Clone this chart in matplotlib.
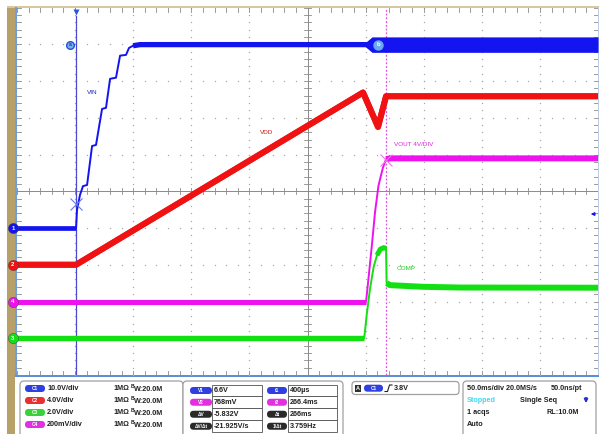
import numpy as np
import matplotlib
matplotlib.use("Agg")
import matplotlib.pyplot as plt
from matplotlib.patches import FancyBboxPatch, Rectangle, Polygon

plt.rcParams['font.family'] = ['Liberation Sans', 'DejaVu Sans']

# ---------------- data (time in ms relative to trigger, values in volts) -------------
XMIN = -50.8          # left edge of screen relative to trigger (ms)
T_PER_DIV = 50.0      # 50.0 ms/div

vin_t = [-50.8, 0.0, 0.86, 3.4, 6.0, 9.5, 13.8, 17.2, 22.4, 25.8, 29.3, 34.4,
         37.9, 43.0, 45.6, 49.1, 55.1, 449.2]
vin_v = [0.0, 0.0, 4.9, 9.0, 11.4, 11.7, 22.3, 22.6, 32.4, 32.7, 40.6, 40.9,
         46.9, 47.1, 49.0, 49.6, 49.9, 49.9]
vin_band_t = [248.7, 254.7, 449.2]     # switching-noise envelope on VIN
vin_band_h = [0.5, 2.1, 2.1]

vdd_t = [-50.8, 0.0, 247.0, 259.9, 266.8, 449.2]
vdd_v = [0.0, 0.0, 18.75, 15.0, 18.34, 18.34]

vout_t = [-50.8, 249.6, 251.6, 254.5, 257.3, 260.2, 261.6, 264.2, 266.8, 270.2, 449.2]
vout_v = [0.0, 0.0, 0.120, 0.300, 0.485, 0.627, 0.665, 0.730, 0.774, 0.779, 0.779]

comp_t = [-50.8, 248.0, 250.3, 253.2, 256.1, 259.0, 261.9, 264.7, 266.8, 267.3,
          270.2, 298.6, 330.5, 449.2]
comp_v = [0.0, 0.0, 1.36, 2.78, 3.87, 4.52, 4.85, 4.93, 4.89, 3.00,
          2.89, 2.80, 2.76, 2.75]

ch_names = ['C1', 'C2', 'C3', 'C4']
ch_scale = {'C1': 10.0, 'C2': 4.0, 'C3': 2.0, 'C4': 0.2}   # V/div
ch_offset = {'C1': -1.0, 'C2': -2.0, 'C3': -4.0, 'C4': -3.0}  # div
ch_scale_txt = ['10.0V/div', '4.0V/div', '2.0V/div', '200mV/div']

cursor_t1, cursor_t2 = 0.4, 266.4          # ms
cursor_v1, cursor_v2 = 6.6, 0.768          # V (C1, C4)
trig_level = 3.8                            # V on C1

cur_v_labels = ['V1', 'V2', 'ΔV', 'ΔV/Δt']
cur_v_vals = ['6.6V', '768mV', '-5.832V', '-21.925V/s']
cur_t_labels = ['t1', 't2', 'Δt', '1/Δt']
cur_t_vals = ['400µs', '266.4ms', '266ms', '3.759Hz']

# ---------------- styles -------------
BLUE = '#1414f0'
RED = '#f01212'
MAG = '#ee12ee'
GRN = '#12e012'
ch_color = {'C1': BLUE, 'C2': RED, 'C3': GRN, 'C4': MAG}
PILL = {'C1': '#2f3fe0', 'C2': '#e83030', 'C3': '#3ad03a', 'C4': '#e030e0'}

W, H = 599, 434
fig = plt.figure(figsize=(W / 100, H / 100), dpi=100)
fig.patch.set_facecolor('white')

X0, X1, Y0, Y1 = 17.0, 598.0, 7.5, 375.0   # graticule in px

# background overlay (pixel coords)
bg = fig.add_axes([0, 0, 1, 1], zorder=0)
bg.set_xlim(0, W); bg.set_ylim(H, 0); bg.axis('off')
bg.add_patch(Rectangle((7, 6), 7.5, H - 6, color='#b7a06a', lw=0))
bg.add_patch(Rectangle((7, 5.5), W - 7, 2, color='#d6c79e', lw=0))
bg.add_patch(Rectangle((14.5, 7), 2.5, 370, color='#6d9ee0', lw=0))
bg.add_patch(Rectangle((14.5, 375), W - 14.5, 2.2, color='#5d8fd8', lw=0))
bg.add_patch(Rectangle((597.5, 7), 1.5, 368, color='#c0cce0', lw=0))

# scope axes
ax = fig.add_axes([X0 / W, 1 - Y1 / H, (X1 - X0) / W, (Y1 - Y0) / H], zorder=1)
ax.patch.set_alpha(0)
ax.set_xlim(XMIN, XMIN + 10 * T_PER_DIV)
ax.set_ylim(-5, 5)
ax.axis('off')

px_x = 10 * T_PER_DIV / (X1 - X0)   # ms per px
px_y = 10.0 / (Y1 - Y0)              # div per px
xmaj = [XMIN + T_PER_DIV * k for k in range(11)]
xmin_ = [XMIN + T_PER_DIV / 5 * k for k in range(51)]
ymin_ = [-5 + 0.2 * k for k in range(51)]
GC = '#a8a8a8'
# dotted grid
for k in range(1, 10):
    if k == 5:
        continue
    ax.plot([xmaj[k]] * len(ymin_), ymin_, ls='none', marker='o', ms=1.0, mec='none', mfc=GC, zorder=1)
    ax.plot(xmin_, [k - 5] * len(xmin_), ls='none', marker='o', ms=1.0, mec='none', mfc=GC, zorder=1)
# center crosshair
TC = '#8a8a8a'
ax.plot([xmaj[5], xmaj[5]], [-5, 5], color=TC, lw=0.7, zorder=1)
ax.plot([xmaj[0], xmaj[10]], [0, 0], color=TC, lw=0.7, zorder=1)
for x in xmin_:
    ax.plot([x, x], [-3 * px_y, 3 * px_y], color=TC, lw=0.6, zorder=1)
    ax.plot([x, x], [5, 5 - 4 * px_y], color=TC, lw=0.6, zorder=1)
    ax.plot([x, x], [-5, -5 + 4 * px_y], color=TC, lw=0.6, zorder=1)
for y in ymin_:
    ax.plot([xmaj[5] - 3 * px_x, xmaj[5] + 3 * px_x], [y, y], color=TC, lw=0.6, zorder=1)
    ax.plot([xmaj[0], xmaj[0] + 4 * px_x], [y, y], color=TC, lw=0.6, zorder=1)
    ax.plot([xmaj[10], xmaj[10] - 4 * px_x], [y, y], color=TC, lw=0.6, zorder=1)


def to_div(v, ch):
    return np.asarray(v, dtype=float) / ch_scale[ch] + ch_offset[ch]


def trace(t, v, ch, thick, lw_thin=1.4, z=3):
    t = np.asarray(t); d = to_div(v, ch)
    ax.plot(t, d, color=ch_color[ch], lw=lw_thin, zorder=z, solid_joinstyle='round')
    for i0, i1, lw in thick:
        ax.plot(t[i0:i1 + 1], d[i0:i1 + 1], color=ch_color[ch], lw=lw, zorder=z,
                solid_capstyle='butt', solid_joinstyle='round')

# cursor / trigger lines
ax.plot([0, 0], [-5, 5 - 8 * px_y], color='#4a4ad0', lw=0.9, zorder=2)
ax.plot([0], [5 - 4 * px_y], marker='v', ms=5, color='#2a55d8', mec='none', zorder=6, clip_on=False)
ax.plot([cursor_t2, cursor_t2], [-5, 5], color='#e050e0', lw=0.9, ls=(0, (1.5, 1.5)), zorder=2)

# traces
trace(vdd_t, vdd_v, 'C2', [(0, 5, 4.3)], lw_thin=4.3, z=4)
trace(comp_t, comp_v, 'C3', [(0, 1, 3.9), (5, 8, 3.6), (9, 13, 4.3)], z=3)
trace(vout_t, vout_v, 'C4', [(0, 1, 3.7), (8, 10, 4.3)], z=3)
trace(vin_t, vin_v, 'C1', [(0, 1, 3.4), (15, 17, 3.8)], z=5)
bt = np.asarray(vin_band_t); bh = np.asarray(vin_band_h)
ax.fill_between(bt, to_div(vin_v[-1] - bh, 'C1'), to_div(vin_v[-1] + bh, 'C1'),
                color=BLUE, lw=0, zorder=5)

# cursor X markers
ax.plot([cursor_t1], [to_div(cursor_v1, 'C1')], marker='x', ms=8, mew=0.8, color='#6a7ae8', zorder=7)
ax.plot([cursor_t2], [to_div(cursor_v2, 'C4')], marker='x', ms=8, mew=0.8, color='#f070f0', zorder=7)

# cursor handles a / b
ya = to_div(vin_v[-1], 'C1')
ax.plot([-5.2], [ya], marker='o', ms=5.5, mfc='#7ab0f0', mec='#2050d0', mew=1.0, zorder=8)
ax.text(-5.2, ya, 'a', color='#1030a0', fontsize=3.6, ha='center', va='center', zorder=9, fontweight='bold')
ax.plot([259.9], [ya], marker='o', ms=6.5, mfc='#6aa8f0', mec='#6aa8f0', zorder=8)
ax.text(259.9, ya, 'b', color='white', fontsize=4.2, ha='center', va='center', zorder=9, fontweight='bold')

# trigger level arrow (right edge)
yt = to_div(trig_level, 'C1')
ax.annotate('', xy=(xmaj[10] - 10 * px_x, yt), xytext=(xmaj[10], yt),
            arrowprops=dict(arrowstyle='-|>', color=BLUE, lw=0.8, mutation_scale=5), zorder=8)

# trace labels
ax.text(9.0, to_div(0, 'C1') + 3.70, 'VIN', color='#2424c0', fontsize=4.6, ha='left', va='center')
ax.text(158.0, to_div(0, 'C2') + 3.61, 'VDD', color='#d01818', fontsize=4.6, ha='left', va='center')
ax.text(274.0, to_div(0, 'C4') + 4.26, 'VOUT 4V/DIV', color='#e020e0', fontsize=4.6, ha='left', va='center')
ax.text(276.0, to_div(0, 'C3') + 1.91, 'COMP', color='#22cc22', fontsize=4.6, ha='left', va='center')

# channel ground markers
num = {'C1': '1', 'C2': '2', 'C3': '3', 'C4': '4'}
xm = XMIN - 4 * px_x
for ch in ch_names:
    y = ch_offset[ch]
    ax.plot([xm], [y], marker='o', ms=7.4, color=ch_color[ch], mec='#404040', mew=0.3, zorder=10, clip_on=False)
    ax.text(xm, y, num[ch], color='white', fontsize=4.3, ha='center', va='center', zorder=11,
            fontweight='bold', clip_on=False)

# ---------------- bottom panel -------------
fg = fig.add_axes([0, 0, 1, 1], zorder=2)
fg.set_xlim(0, W); fg.set_ylim(H, 0); fg.axis('off')


def rbox(x0, y0, x1, y1, r=4, ec='#a0a0a0', fc='white', lw=0.9):
    fg.add_patch(FancyBboxPatch((x0, y0), x1 - x0, y1 - y0,
                                boxstyle=f'round,pad=0,rounding_size={r}', ec=ec, fc=fc, lw=lw))


def pill(x0, x1, yc, color, label, h=7.0):
    fg.add_patch(FancyBboxPatch((x0, yc - h / 2), x1 - x0, h,
                                boxstyle=f'round,pad=0,rounding_size={h / 2}', ec='none', fc=color))
    fg.text((x0 + x1) / 2, yc, label, color='white', fontsize=3.4, ha='center', va='center',
            fontweight='bold')

rows = [388.5, 400.5, 412.5, 424.5]
TXT = dict(fontsize=5.2, fontweight='bold', color='#202020', va='center')

rbox(20, 381, 183, 440)
for i, ch in enumerate(ch_names):
    pill(25, 45, rows[i], PILL[ch], ch)
    fg.text(47, rows[i], ch_scale_txt[i], ha='left', **TXT)
    fg.text(113, rows[i], '1MΩ', ha='left', **TXT)
    fg.text(130.5, rows[i] - 2.2, 'B', ha='left', fontsize=3.6, fontweight='bold', color='#202020', va='center')
    fg.text(133.5, rows[i] + 0.8, 'W:20.0M', ha='left', **TXT)

rbox(183, 381, 343, 440)
vb = [384.7, 396.3, 408.2, 420.3, 432.2]
vpill = ['#2f3fe0', '#e030e0', '#2a2a2a', '#2a2a2a']
for i in range(4):
    yc = (vb[i] + vb[i + 1]) / 2
    pill(190, 212, yc, vpill[i], cur_v_labels[i])
    pill(267, 287, yc, vpill[i], cur_t_labels[i])
    fg.add_patch(Rectangle((212, vb[i]), 50, vb[i + 1] - vb[i], fc='white', ec='#505050', lw=0.6))
    fg.add_patch(Rectangle((288, vb[i]), 49, vb[i + 1] - vb[i], fc='white', ec='#505050', lw=0.6))
    fg.text(214, yc, cur_v_vals[i], ha='left', **TXT)
    fg.text(290, yc, cur_t_vals[i], ha='left', **TXT)

rbox(352, 381.5, 459, 394.5, r=3.5)
fg.add_patch(Rectangle((354.5, 384.5), 6.5, 7, fc='#303030', ec='none'))
fg.text(357.75, 388.2, 'A', color='white', fontsize=4.0, ha='center', va='center', fontweight='bold')
pill(364, 383, 388.2, '#2f3fe0', 'C1')
fg.plot([385, 387.5, 389.5, 392], [391.5, 391.5, 385, 385], color='#202020', lw=0.8)
fg.text(393.5, 388.2, '3.8V', ha='left', **TXT)

rbox(463, 381, 596, 440)
fg.text(467, rows[0], '50.0ms/div 20.0MS/s', ha='left', **TXT)
fg.text(582, rows[0], '50.0ns/pt', ha='right', **TXT)
fg.text(467, rows[1], 'Stopped', ha='left', fontsize=5.2, fontweight='bold', color='#40d8f0', va='center')
fg.text(520, rows[1], 'Single Seq', ha='left', **TXT)
fg.annotate('', xy=(586, 406), xytext=(586, 395),
            arrowprops=dict(arrowstyle='-|>', color='#2030d0', lw=1.3, mutation_scale=5))
fg.text(467, rows[2], '1 acqs', ha='left', **TXT)
fg.text(579, rows[2], 'RL:10.0M', ha='right', **TXT)
fg.text(467, rows[3], 'Auto', ha='left', **TXT)

fig.savefig('out.png', dpi=100, facecolor='white')
